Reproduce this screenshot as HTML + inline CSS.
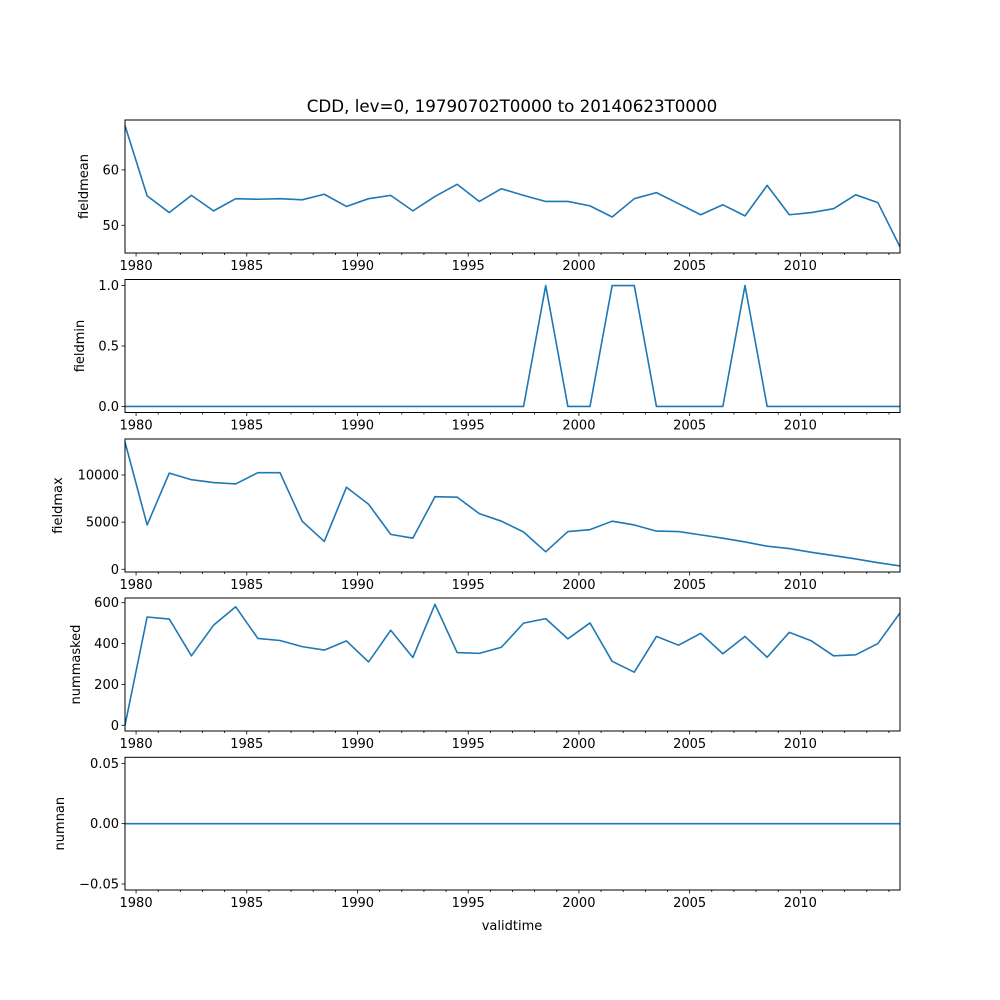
<!DOCTYPE html>
<html><head><meta charset="utf-8"><style>
html,body{margin:0;padding:0;background:#fff;}
svg{display:block;font-family:"DejaVu Sans","Liberation Sans",sans-serif;}
</style></head><body>
<svg id="chart" width="1000" height="1000" viewBox="0 0 1000 1000" xmlns="http://www.w3.org/2000/svg">
<rect width="1000" height="1000" fill="#fff"/>
<text x="512" y="112" font-size="16.7" text-anchor="middle" fill="#000">CDD, lev=0, 19790702T0000 to 20140623T0000</text>
<text x="512" y="930" font-size="13" text-anchor="middle" fill="#000">validtime</text>
</svg>
<script>
const xTickYears = [1980, 1985, 1990, 1995, 2000, 2005, 2010];
const fieldmean = [68, 55.3, 52.3, 55.4, 52.6, 54.8, 54.7, 54.8, 54.6, 55.6, 53.4, 54.8, 55.4, 52.6, 55.2, 57.4, 54.3, 56.6, 55.4, 54.3, 54.3, 53.5, 51.5, 54.8, 55.9, 53.9, 51.9, 53.7, 51.7, 57.2, 51.9, 52.3, 53.0, 55.5, 54.1, 46.1];
const fieldmin = [0,0,0,0,0,0,0,0,0,0,0,0,0,0,0,0,0,0,0,1,0,0,1,1,0,0,0,0,1,0,0,0,0,0,0,0];
const fieldmax = [13500, 4700, 10200, 9500, 9200, 9050, 10250, 10250, 5100, 2950, 8700, 6900, 3700, 3300, 7700, 7650, 5900, 5100, 3950, 1850, 4000, 4200, 5100, 4700, 4050, 4000, 3650, 3300, 2900, 2450, 2200, 1800, 1450, 1100, 700, 350];
const nummasked = [0, 530, 520, 340, 490, 580, 425, 415, 385, 368, 413, 310, 465, 332, 592, 356, 352, 382, 500, 522, 423, 501, 313, 260, 435, 392, 450, 350, 435, 333, 455, 413, 340, 345, 400, 550];
const numnan = [0,0,0,0,0,0,0,0,0,0,0,0,0,0,0,0,0,0,0,0,0,0,0,0,0,0,0,0,0,0,0,0,0,0,0,0];
const startYear = 1979.5;
const meanTicks = ["50", "60"], meanTickVals = [50, 60];
const minTicks = ["0.0", "0.5", "1.0"], minTickVals = [0, 0.5, 1];
const maxTicks = ["0", "5000", "10000"], maxTickVals = [0, 5000, 10000];
const maskTicks = ["0", "200", "400", "600"], maskTickVals = [0, 200, 400, 600];
const nanTicks = ["\u22120.05", "0.00", "0.05"], nanTickVals = [-0.05, 0, 0.05];

const NS = "http://www.w3.org/2000/svg";
const svg = document.getElementById('chart');
const L = 125, R = 900;
const x0Year = 1979.5, x1Year = 2014.5;
function xScale(yr){ return L + (yr - x0Year) / (x1Year - x0Year) * (R - L); }
function mk(tag, attrs){ const e = document.createElementNS(NS, tag); for (const k in attrs) e.setAttribute(k, attrs[k]); svg.appendChild(e); return e; }

const panels = [
  {name:'fieldmean', data:fieldmean, top:120, bot:253, ymin:45.0, ymax:69.0, ticks:meanTicks, tv:meanTickVals, lx:88},
  {name:'fieldmin', data:fieldmin, top:279.5, bot:412.5, ymin:-0.05, ymax:1.05, ticks:minTicks, tv:minTickVals, lx:84},
  {name:'fieldmax', data:fieldmax, top:439, bot:572, ymin:-290, ymax:13820, ticks:maxTicks, tv:maxTickVals, lx:62},
  {name:'nummasked', data:nummasked, top:598, bot:731, ymin:-28, ymax:623, ticks:maskTicks, tv:maskTickVals, lx:80},
  {name:'numnan', data:numnan, top:757.3, bot:890, ymin:-0.055, ymax:0.055, ticks:nanTicks, tv:nanTickVals, lx:64}
];

panels.forEach(p => {
  const ys = v => p.bot - (v - p.ymin) / (p.ymax - p.ymin) * (p.bot - p.top);
  const pts = p.data.map((v,i) => xScale(startYear + i).toFixed(2) + ',' + ys(v).toFixed(2)).join(' ');
  const line = mk('polyline', {points:pts, fill:'none', stroke:'#1f77b4', 'stroke-width':1.6, 'stroke-linejoin':'round'});
  
  
  const fr = mk('rect', {x:L, y:p.top, width:R-L, height:p.bot-p.top, fill:'none', stroke:'#000', 'stroke-width':1});
  
  
  p.tv.forEach((v,i) => {
    const y = ys(v);
    mk('line', {x1:L-3.5, x2:L, y1:y, y2:y, stroke:'#000', 'stroke-width':0.8});
    const t = mk('text', {x:L-6, y:y+4.5, 'font-size':13, 'text-anchor':'end', fill:'#000'});
    t.textContent = p.ticks[i];
    
    
  });
  const cy = (p.top + p.bot) / 2;
  const yt = mk('text', {x:p.lx, y:cy, 'font-size':13, 'text-anchor':'middle', fill:'#000', transform:'rotate(-90 '+p.lx+' '+cy+')'});
  yt.textContent = p.name;
  
  
  for (let yr = 1980; yr <= 2014; yr++) {
    const x = xScale(yr);
    const major = xTickYears.indexOf(yr) >= 0;
    mk('line', {x1:x, x2:x, y1:p.bot, y2:p.bot + (major ? 3.5 : 2), stroke:'#000', 'stroke-width':0.8});
  }
  xTickYears.forEach(yr => {
    const t = mk('text', {x:xScale(yr), y:p.bot+17, 'font-size':13, 'text-anchor':'middle', fill:'#000'});
    t.textContent = String(yr);
    
    
  });
});
</script>
</body></html>
